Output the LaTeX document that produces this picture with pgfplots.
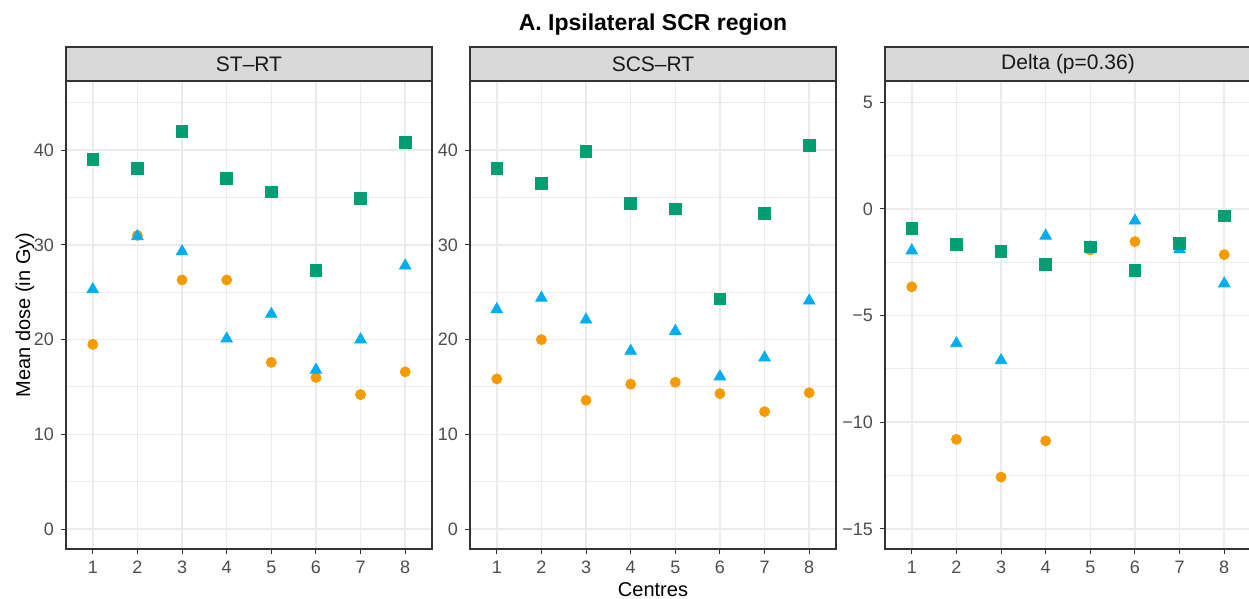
\documentclass[border=0pt]{standalone}
\usepackage{pgfplots}
\pgfplotsset{compat=1.18}
\usepackage{fontspec}
\setmainfont{Liberation Sans}

\definecolor{cgreen}{HTML}{009E73}
\definecolor{cblue}{HTML}{00AEEF}
\definecolor{corange}{HTML}{F59B00}
\definecolor{gridc}{HTML}{EBEBEB}
\definecolor{framec}{HTML}{333333}
\definecolor{ticklab}{HTML}{4D4D4D}
\definecolor{stripfill}{HTML}{D9D9D9}

\pgfplotsset{
  panel/.style={
    scale only axis, width=183pt, height=234pt, anchor=south west,
    xmin=0.4, xmax=8.6, xtick={1,...,8},
    axis line style={framec, line width=0.6pt},
    tick style={framec, line width=0.5pt},
    tick align=outside, major tick length=2.5pt, minor tick length=0pt,
    xtick pos=bottom, ytick pos=left,
    xmajorgrids, ymajorgrids, yminorgrids,
    major grid style={gridc, line width=0.8pt},
    minor grid style={gridc, line width=0.5pt},
    ticklabel style={font=\fontsize{9}{10}\selectfont, text=ticklab},
    /pgf/number format/assume math mode=true,
    every axis title shift=0pt,
    title style={at={(0.5,1)}, anchor=south, yshift=-0.3pt,
      draw=framec, line width=0.6pt, fill=stripfill,
      minimum width=183pt, minimum height=17pt, inner sep=0pt,
      font=\fontsize{10.5}{12}\selectfont, text=black!90},
  },
  sq/.style={only marks, mark=square*, mark size=2.9pt, color=cgreen},
  tri/.style={only marks, mark=triangle*, mark size=3.3pt, color=cblue},
  circ/.style={only marks, mark=*, mark size=2.5pt, color=corange},
}

\begin{document}
\begin{tikzpicture}

% ST-RT
\begin{axis}[panel, at={(33pt,25pt)},
  ymin=-2.1, ymax=47.3, ytick={0,10,20,30,40}, minor ytick={5,15,25,35,45},
  title={ST–RT},
  ylabel={Mean dose (in Gy)},
  ylabel style={at={(axis description cs:-0.112,0.5)}, anchor=center, font=\fontsize{10}{12}\selectfont},
]
\addplot[circ] coordinates {(1,19.5) (2,31.0) (3,26.3) (4,26.3) (5,17.6) (6,16.0) (7,14.2) (8,16.6)};
\addplot[tri] coordinates {(1,25.3) (2,30.9) (3,29.3) (4,20.1) (5,22.7) (6,16.8) (7,20.0) (8,27.8)};
\addplot[sq] coordinates {(1,39.05) (2,38.1) (3,42.0) (4,37.0) (5,35.6) (6,27.3) (7,34.9) (8,40.8)};
\end{axis}

% SCS-RT
\begin{axis}[panel, at={(235pt,25pt)},
  ymin=-2.1, ymax=47.3, ytick={0,10,20,30,40}, minor ytick={5,15,25,35,45},
  title={SCS–RT},
  xlabel={Centres},
  xlabel style={at={(axis description cs:0.5,-0.0876)}, anchor=center, font=\fontsize{10}{12}\selectfont},
]
\addplot[circ] coordinates {(1,15.85) (2,20.0) (3,13.6) (4,15.3) (5,15.5) (6,14.3) (7,12.4) (8,14.4)};
\addplot[tri] coordinates {(1,23.2) (2,24.4) (3,22.1) (4,18.8) (5,20.9) (6,16.1) (7,18.1) (8,24.1)};
\addplot[sq] coordinates {(1,38.1) (2,36.5) (3,39.9) (4,34.4) (5,33.8) (6,24.3) (7,33.3) (8,40.5)};
\end{axis}

% Delta
\begin{axis}[panel, at={(442.5pt,25pt)},
  ymin=-15.94, ymax=6.0, ytick={-15,-10,-5,0,5}, minor ytick={-12.5,-7.5,-2.5,2.5},
  yticklabels={−15,−10,−5,0,5},
  title={Delta (p=0.36)},
]
\addplot[circ] coordinates {(1,-3.65) (2,-10.8) (3,-12.57) (4,-10.87) (5,-1.92) (6,-1.53) (7,-1.8) (8,-2.14)};
\addplot[tri] coordinates {(1,-1.95) (2,-6.3) (3,-7.1) (4,-1.26) (5,-1.8) (6,-0.55) (7,-1.9) (8,-3.5)};
\addplot[sq] coordinates {(1,-0.92) (2,-1.65) (3,-2.0) (4,-2.6) (5,-1.77) (6,-2.89) (7,-1.6) (8,-0.33)};
\end{axis}

\node[font=\bfseries\fontsize{11.5}{13}\selectfont] at (326.5pt,287pt) {A. Ipsilateral SCR region};

\pgfresetboundingbox
\path[use as bounding box] (0,0) rectangle (624.5pt,299.5pt);
\end{tikzpicture}
\end{document}
